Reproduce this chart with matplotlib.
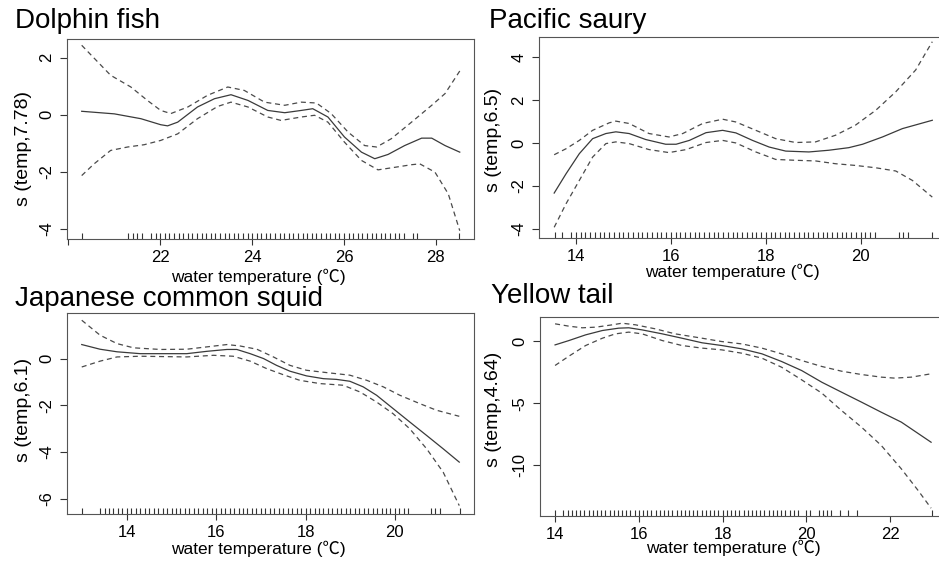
import matplotlib
matplotlib.use("Agg")
import matplotlib.pyplot as plt
import matplotlib.transforms as mtransforms

plt.rcParams['font.family'] = ['Liberation Sans', 'Noto Sans CJK JP', 'DejaVu Sans']

# ---- Dolphin fish ----
dolphin_fit_x = [20.29, 21.0, 21.58, 22.01, 22.16, 22.38, 22.81, 23.18, 23.54, 23.91, 24.34, 24.71,
                 25.07, 25.32, 25.65, 26.01, 26.38, 26.67, 26.96, 27.32, 27.69, 27.91, 28.2, 28.52]
dolphin_fit = [0.12, 0.03, -0.14, -0.35, -0.39, -0.26, 0.27, 0.56, 0.70, 0.50, 0.15, 0.07,
               0.15, 0.21, -0.08, -0.78, -1.31, -1.54, -1.39, -1.08, -0.82, -0.82, -1.08, -1.31]
dolphin_hi_x = [20.29, 20.71, 20.92, 21.36, 21.72, 22.01, 22.23, 22.6, 23.03, 23.47, 23.83, 24.27,
                24.71, 25.07, 25.4, 25.72, 26.09, 26.45, 26.71, 27.03, 27.47, 27.91, 28.2, 28.52]
dolphin_hi = [2.43, 1.73, 1.38, 0.97, 0.50, 0.15, 0.04, 0.27, 0.68, 0.97, 0.85, 0.44,
              0.33, 0.44, 0.41, 0.04, -0.61, -1.08, -1.13, -0.84, -0.26, 0.33, 0.74, 1.53]
dolphin_lo_x = [20.29, 20.56, 20.92, 21.29, 21.65, 22.01, 22.38, 22.81, 23.25, 23.54, 23.91, 24.34,
                24.63, 25.07, 25.36, 25.65, 26.01, 26.38, 26.74, 27.11, 27.47, 27.65, 27.98, 28.27, 28.52]
dolphin_lo = [-2.13, -1.72, -1.25, -1.13, -1.05, -0.90, -0.67, -0.14, 0.29, 0.44, 0.27, -0.08,
              -0.20, -0.08, -0.02, -0.26, -0.96, -1.60, -1.93, -1.84, -1.75, -1.72, -2.01, -2.77, -4.06]
dolphin_rug = [20.3, 21.3, 21.4, 21.5, 21.6,
               21.8, 21.9, 22.0, 22.1, 22.2, 22.3, 22.4, 22.5, 22.6, 22.7, 22.8, 22.9,
               23.0, 23.1, 23.2, 23.3, 23.4, 23.5, 23.6, 23.7, 23.8, 23.9,
               24.0, 24.1, 24.2, 24.3, 24.4, 24.5, 24.6, 24.7, 24.8, 24.9,
               25.0, 25.1, 25.2, 25.3, 25.4, 25.5, 25.6, 25.7, 25.8, 25.9,
               26.0, 26.1, 26.2, 26.3, 26.4, 26.5, 26.6, 26.7, 26.8, 26.9,
               27.0, 27.1, 27.2, 27.3, 27.5, 27.6, 28.5]
dolphin_xticks = [20, 22, 24, 26, 28]
dolphin_xlabels = ['', '22', '24', '26', '28']
dolphin_yticks = [-4, -2, 0, 2]

# ---- Pacific saury ----
saury_fit_x = [13.54, 13.79, 14.07, 14.35, 14.63, 14.84, 15.12, 15.47, 15.89, 16.11, 16.39, 16.74,
               17.09, 17.37, 17.72, 18.07, 18.42, 18.91, 19.33, 19.75, 20.04, 20.46, 20.88, 21.51]
saury_fit = [-2.34, -1.44, -0.50, 0.20, 0.44, 0.52, 0.44, 0.16, -0.06, -0.06, 0.12, 0.48,
             0.59, 0.47, 0.12, -0.19, -0.38, -0.42, -0.34, -0.22, -0.06, 0.28, 0.67, 1.06]
saury_hi_x = [13.54, 13.79, 14.07, 14.35, 14.7, 14.84, 15.12, 15.54, 15.96, 16.25, 16.67, 17.09,
              17.37, 17.79, 18.21, 18.63, 19.05, 19.47, 19.89, 20.32, 20.74, 21.16, 21.51]
saury_hi = [-0.55, -0.27, 0.12, 0.59, 0.94, 1.02, 0.91, 0.44, 0.28, 0.44, 0.91, 1.11,
            0.98, 0.59, 0.20, 0.02, 0.05, 0.36, 0.83, 1.53, 2.39, 3.41, 4.73]
saury_lo_x = [13.54, 13.79, 14.07, 14.35, 14.63, 14.84, 15.12, 15.54, 15.96, 16.32, 16.74, 17.09,
              17.37, 17.79, 18.21, 18.63, 19.05, 19.47, 19.89, 20.32, 20.74, 21.09, 21.51]
saury_lo = [-3.94, -2.84, -1.75, -0.66, -0.03, 0.05, -0.03, -0.31, -0.45, -0.31, 0.02, 0.12,
            0.00, -0.42, -0.77, -0.81, -0.84, -0.97, -1.05, -1.16, -1.31, -1.75, -2.53]
saury_rug = [13.55, 13.7,
             13.9, 14.0, 14.1, 14.2, 14.3, 14.4, 14.5, 14.6, 14.7, 14.8, 14.9,
             15.0, 15.1, 15.2, 15.3, 15.4, 15.5, 15.6, 15.7, 15.8, 15.9,
             16.0, 16.1, 16.2, 16.3, 16.4, 16.5, 16.6, 16.7, 16.8, 16.9,
             17.0, 17.1, 17.2, 17.3, 17.4, 17.5, 17.6, 17.7, 17.8, 17.9,
             18.0, 18.1, 18.2, 18.3, 18.4, 18.5, 18.6, 18.7, 18.8, 18.9,
             19.0, 19.1, 19.2, 19.3, 19.4, 19.5, 19.6, 19.7, 19.8, 19.9,
             20.0, 20.1, 20.2, 20.3, 20.8, 20.9, 21.0, 21.5]
saury_xticks = [14, 16, 18, 20]
saury_xlabels = ['14', '16', '18', '20']
saury_yticks = [-4, -2, 0, 2, 4]

# ---- Japanese common squid ----
squid_fit_x = [12.99, 13.4, 13.78, 14.3, 14.89, 15.34, 15.79, 16.24, 16.46, 16.76, 17.06, 17.35,
               17.65, 18.02, 18.4, 18.69, 18.99, 19.29, 19.59, 19.96, 20.33, 20.71, 21.08, 21.44]
squid_fit = [0.60, 0.40, 0.29, 0.21, 0.21, 0.21, 0.31, 0.39, 0.39, 0.21, 0.00, -0.29,
             -0.54, -0.74, -0.86, -0.89, -0.97, -1.21, -1.57, -2.14, -2.71, -3.29, -3.86, -4.43]
squid_hi_x = [12.99, 13.4, 13.78, 14.15, 14.75, 15.34, 15.79, 16.24, 16.53, 16.91, 17.28, 17.65,
              18.02, 18.47, 18.99, 19.37, 19.74, 20.11, 20.56, 20.93, 21.44]
squid_hi = [1.64, 1.00, 0.64, 0.46, 0.39, 0.40, 0.50, 0.60, 0.54, 0.40, 0.07, -0.29,
            -0.50, -0.60, -0.71, -0.93, -1.21, -1.57, -1.93, -2.21, -2.47]
squid_lo_x = [12.99, 13.4, 13.78, 14.3, 15.34, 15.94, 16.38, 16.76, 17.13, 17.5, 17.87, 18.32,
              18.84, 19.22, 19.59, 19.96, 20.33, 20.71, 21.08, 21.44]
squid_lo = [-0.36, -0.11, 0.07, 0.10, 0.07, 0.14, 0.10, -0.11, -0.43, -0.69, -0.93, -1.07,
            -1.14, -1.43, -1.86, -2.36, -3.00, -3.86, -4.86, -6.29]
squid_rug = [13.0,
             13.4, 13.5, 13.6, 13.7, 13.8, 13.9,
             14.0, 14.1, 14.2, 14.3, 14.4, 14.5, 14.6, 14.7, 14.8, 14.9,
             15.0, 15.1, 15.2, 15.3, 15.4, 15.5, 15.6, 15.7, 15.8, 15.9,
             16.0, 16.1, 16.2, 16.3, 16.4, 16.5, 16.6, 16.7, 16.8, 16.9,
             17.0, 17.1, 17.2, 17.3, 17.4, 17.5, 17.6, 17.7, 17.8, 17.9,
             18.0, 18.1, 18.2, 18.3, 18.4, 18.5, 18.6, 18.7, 18.8, 18.9,
             19.0, 19.1, 19.2, 19.3, 19.4, 19.5, 19.6, 19.7, 19.8, 19.9,
             20.0, 20.1, 20.2, 20.3, 20.8, 20.9, 21.0, 21.45]
squid_xticks = [14, 16, 18, 20]
squid_xlabels = ['14', '16', '18', '20']
squid_yticks = [-6, -4, -2, 0]

# ---- Yellow tail ----
yellow_fit_x = [14.0, 14.33, 14.73, 15.13, 15.52, 15.76, 16.08, 16.56, 17.03, 17.51, 17.98,
                18.46, 18.94, 19.41, 19.89, 20.37, 20.84, 21.32, 21.79, 22.27, 22.98]
yellow_fit = [-0.30, 0.05, 0.51, 0.86, 1.05, 1.08, 0.91, 0.59, 0.24, -0.13, -0.35,
              -0.62, -1.02, -1.64, -2.37, -3.31, -4.11, -4.92, -5.73, -6.53, -8.15]
yellow_hi_x = [14.0, 14.33, 14.65, 14.97, 15.37, 15.6, 15.92, 16.4, 16.87, 17.51, 17.98,
               18.46, 18.94, 19.41, 19.89, 20.37, 20.84, 21.32, 21.79, 22.11, 22.51, 22.98]
yellow_hi = [1.40, 1.21, 1.08, 1.13, 1.32, 1.45, 1.32, 0.99, 0.59, 0.24, -0.03,
             -0.22, -0.56, -1.02, -1.56, -2.04, -2.42, -2.69, -2.90, -2.98, -2.90, -2.63]
yellow_lo_x = [14.0, 14.33, 14.73, 15.13, 15.44, 15.76, 16.08, 16.56, 17.03, 17.51, 17.98,
               18.46, 18.94, 19.41, 19.89, 20.37, 20.84, 21.32, 21.79, 22.27, 22.67, 22.98]
yellow_lo = [-1.96, -1.21, -0.35, 0.24, 0.59, 0.73, 0.59, 0.05, -0.35, -0.56, -0.70,
             -0.97, -1.37, -2.10, -3.12, -4.19, -5.59, -6.94, -8.41, -10.30, -12.04, -13.47]
yellow_rug = [14.0,
              14.2, 14.3, 14.4, 14.5, 14.6, 14.7, 14.8, 14.9,
              15.0, 15.1, 15.2, 15.3, 15.4, 15.5, 15.6, 15.7, 15.8, 15.9,
              16.0, 16.1, 16.2, 16.3, 16.4, 16.5, 16.6, 16.7, 16.8, 16.9,
              17.0, 17.1, 17.2, 17.3, 17.4, 17.5, 17.6, 17.7, 17.8, 17.9,
              18.0, 18.1, 18.2, 18.3, 18.4, 18.5, 18.6, 18.7, 18.8, 18.9,
              19.0, 19.1, 19.2, 19.3, 19.4, 19.5, 19.6, 19.7, 19.8,
              20.0, 20.1, 20.3, 20.4, 20.5, 20.6, 20.8, 21.0, 21.2, 23.0]
yellow_xticks = [14, 16, 18, 20, 22]
yellow_xlabels = ['14', '16', '18', '20', '22']
yellow_yticks = [-10, -5, 0]

xlabel = 'water temperature (\u2103)'

fig = plt.figure(figsize=(9.39, 5.70), dpi=100)

line_col = '#3a3a3a'
dash_col = '#4a4a4a'
frame_col = '#555555'


def panel(rect, title, title_xy, ylab, ylab_xy, xlab_xy,
          fx, fy, hx, hy, lx, ly, rug, xticks, xlabels, yticks, xlim, ylim):
    ax = fig.add_axes(rect)
    ax.plot(fx, fy, color=line_col, lw=0.9)
    ax.plot(hx, hy, color=dash_col, lw=0.9, dashes=(4, 3))
    ax.plot(lx, ly, color=dash_col, lw=0.9, dashes=(4, 3))
    trans = mtransforms.blended_transform_factory(ax.transData, ax.transAxes)
    ax.vlines(rug, 0, 0.03, transform=trans, color='#333333', lw=0.8)
    ax.set_xlim(*xlim)
    ax.set_ylim(*ylim)
    ax.set_xticks(xticks)
    ax.set_xticklabels(xlabels)
    ax.set_yticks(yticks)
    ax.set_yticklabels([str(v) for v in yticks], rotation=90, va='center')
    ax.tick_params(axis='both', direction='out', width=0.8,
                   color='#333333', labelsize=12)
    ax.tick_params(axis='x', length=4.3, pad=3.4)
    ax.tick_params(axis='y', length=5, pad=4)
    for s in ax.spines.values():
        s.set_color(frame_col)
        s.set_linewidth(0.8)
    ax.set_xlabel(xlabel, fontsize=12.5)
    ax.xaxis.set_label_coords(*xlab_xy)
    ax.set_ylabel(ylab, fontsize=14)
    ax.yaxis.set_label_coords(*ylab_xy)
    fig.text(title_xy[0] / 939, 1 - title_xy[1] / 570, title, fontsize=20,
             ha='left', va='baseline')
    return ax


panel([67 / 939, 1 - 239 / 570, 407 / 939, 200 / 570], 'Dolphin fish', (15, 28),
      's (temp,7.78)', (-0.086, 0.45), (0.469, -0.15),
      dolphin_fit_x, dolphin_fit, dolphin_hi_x, dolphin_hi, dolphin_lo_x, dolphin_lo,
      dolphin_rug, dolphin_xticks, dolphin_xlabels, dolphin_yticks,
      (19.97, 28.83), (-4.35, 2.65))

panel([539 / 939, 1 - 238 / 570, 408 / 939, 201 / 570], 'Pacific saury', (489, 28),
      's (temp,6.5)', (-0.091, 0.49), (0.473, -0.13),
      saury_fit_x, saury_fit, saury_hi_x, saury_hi, saury_lo_x, saury_lo,
      saury_rug, saury_xticks, saury_xlabels, saury_yticks,
      (13.22, 21.82), (-4.44, 4.95))

panel([67 / 939, 1 - 514 / 570, 407 / 939, 201 / 570], 'Japanese common squid', (15, 306),
      's (temp,6.1)', (-0.086, 0.517), (0.469, -0.135),
      squid_fit_x, squid_fit, squid_hi_x, squid_hi, squid_lo_x, squid_lo,
      squid_rug, squid_xticks, squid_xlabels, squid_yticks,
      (12.66, 21.77), (-6.65, 1.95))

panel([540 / 939, 1 - 516 / 570, 407 / 939, 199 / 570], 'Yellow tail', (491, 303),
      's (temp,4.64)', (-0.093, 0.538), (0.474, -0.12),
      yellow_fit_x, yellow_fit, yellow_hi_x, yellow_hi, yellow_lo_x, yellow_lo,
      yellow_rug, yellow_xticks, yellow_xlabels, yellow_yticks,
      (13.64, 23.36), (-14.1, 1.95))

fig.savefig('out.png', dpi=100)
